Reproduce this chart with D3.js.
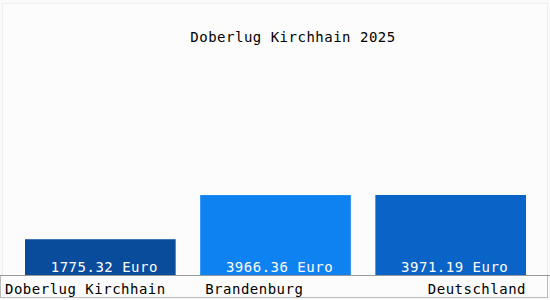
<!DOCTYPE html>
<html lang="en">
<head>
  <meta charset="utf-8">
  <title>Doberlug Kirchhain 2025</title>
  <script src="https://d3js.org/d3.v7.min.js"></script>
</head>
<style>
  body { margin: 0; background: #fafafa; }
  text { font-family: "DejaVu Sans Mono", monospace; }
</style>
<body>
  <div class="chart"></div>
</body>
<script>
var title = "Doberlug Kirchhain 2025";
var regions = ["Doberlug Kirchhain", "Brandenburg", "Deutschland"];
var values = [1775.32, 3966.36, 3971.19];
var colors = ["#0a4c9c", "#0f82f2", "#0a64c8"];

var W = 550, H = 300;
var margin = {top: 60, right: 24, bottom: 25, left: 25};
var width = W - margin.left - margin.right;
var height = H - margin.top - margin.bottom;

var svg = d3.select(".chart")
  .append("svg")
  .attr("width", W)
  .attr("height", H);

// faint frame
svg.append("rect")
  .attr("x", 2.5).attr("y", 3.5)
  .attr("width", W - 5).attr("height", H - 6)
  .attr("fill", "#fcfcfc")
  .attr("stroke", "#eeeeee");

var canvas = svg.append("g")
  .attr("transform", "translate(" + margin.left + "," + margin.top + ")");

var x = d3.scaleBand().domain(regions).range([0, width]).paddingInner(0.14).paddingOuter(0);
var y = d3.scaleLinear().domain([0, 4000]).range([height, height - 80.6]);

canvas.selectAll(".bar")
  .data(values)
  .enter().append("rect")
  .attr("class", "bar")
  .attr("x", function(d, i){ return x(regions[i]); })
  .attr("y", function(d){ return y(d); })
  .attr("width", x.bandwidth())
  .attr("height", function(d){ return height - y(d); })
  .attr("fill", function(d, i){ return colors[i]; });

canvas.selectAll(".val")
  .data(values)
  .enter().append("text")
  .attr("class", "val")
  .attr("x", function(d, i){ return x(regions[i]) + x.bandwidth() / 2 + 4; })
  .attr("y", height - 3)
  .attr("text-anchor", "middle")
  .attr("fill", "#ffffff")
  .style("font-size", "14px")
  .style("letter-spacing", "0.5px")
  .text(function(d){ return d3.format(".2f")(d) + " Euro"; });

// label box + axis line
svg.append("rect")
  .attr("x", 0.5).attr("y", margin.top + height + 0.5)
  .attr("width", W - 3).attr("height", H - margin.top - height - 3)
  .attr("fill", "#fcfcfc")
  .attr("stroke", "#bbbbbb");
svg.append("line")
  .attr("x1", 0).attr("x2", W)
  .attr("y1", margin.top + height + 0.5).attr("y2", margin.top + height + 0.5)
  .attr("stroke", "#999999");

// category labels
svg.selectAll(".cat")
  .data(regions)
  .enter().append("text")
  .attr("class", "cat")
  .attr("x", function(d, i){
    if (i === 0) return 5;
    if (i === regions.length - 1) return margin.left + x(d) + x.bandwidth();
    return margin.left + x(d) + 5;
  })
  .attr("y", margin.top + height + 19)
  .attr("text-anchor", function(d, i){ return i === regions.length - 1 ? "end" : "start"; })
  .attr("fill", "#000")
  .style("font-size", "14px")
  .style("letter-spacing", "0.5px")
  .text(function(d){ return d; });

svg.append("text")
  .attr("x", 293)
  .attr("y", 42)
  .attr("text-anchor", "middle")
  .attr("fill", "#000")
  .style("font-size", "14px")
  .style("letter-spacing", "0.5px")
  .text(title);
</script>
</html>
